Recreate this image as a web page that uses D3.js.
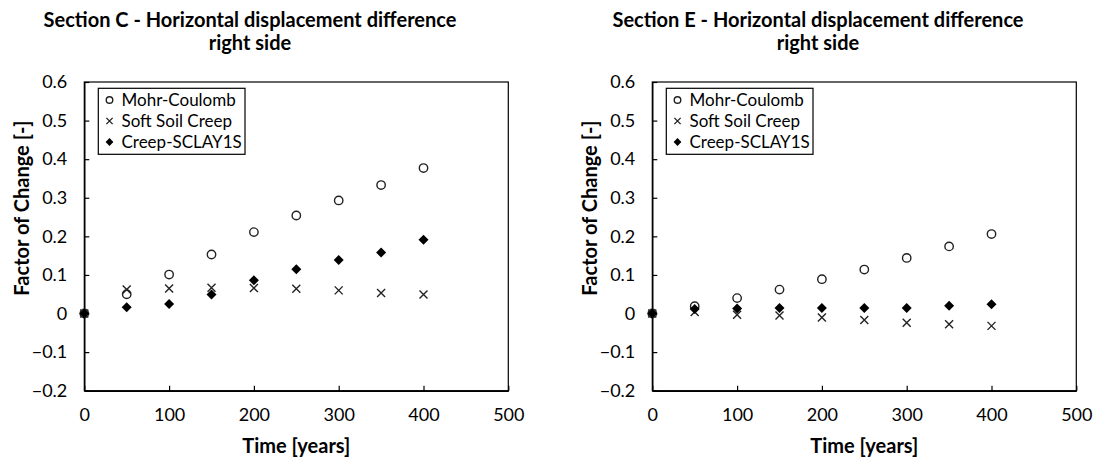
<!DOCTYPE html>
<html>
<head>
<meta charset="utf-8">
<script src="https://cdn.jsdelivr.net/npm/d3@7"></script>
<style>
  html, body { margin: 0; padding: 0; background: #fff; }
  svg text { font-family: Lato, "Open Sans", sans-serif; fill: #000; }
</style>
</head>
<body>
<svg id="chart" width="1096" height="461"></svg>
<script>
// ---- data ----
const years = [0, 50, 100, 150, 200, 250, 300, 350, 400];
const seriesNames = ["Mohr-Coulomb", "Soft Soil Creep", "Creep-SCLAY1S"];
const sectionC_MC    = [0, 0.050, 0.101, 0.153, 0.211, 0.254, 0.293, 0.333, 0.377];
const sectionC_SSC   = [0, 0.062, 0.065, 0.067, 0.066, 0.064, 0.060, 0.053, 0.049];
const sectionC_SCLAY = [0, 0.016, 0.025, 0.049, 0.086, 0.115, 0.139, 0.158, 0.191];
const sectionE_MC    = [0, 0.019, 0.040, 0.062, 0.089, 0.114, 0.144, 0.174, 0.206];
const sectionE_SSC   = [0, 0.004, -0.003, -0.005, -0.010, -0.017, -0.024, -0.028, -0.032];
const sectionE_SCLAY = [0, 0.012, 0.013, 0.014, 0.014, 0.014, 0.014, 0.020, 0.024];
const xTicks = [0, 100, 200, 300, 400, 500];
const yTicks = [-0.2, -0.1, 0, 0.1, 0.2, 0.3, 0.4, 0.5, 0.6];
const titles = [
  ["Section C - Horizontal displacement difference", "right side"],
  ["Section E - Horizontal displacement difference", "right side"]
];
const xTitle = "Time [years]";
const yTitle = "Factor of Change [-]";

const panels = [
  { title: titles[0], series: [sectionC_MC, sectionC_SSC, sectionC_SCLAY] },
  { title: titles[1], series: [sectionE_MC, sectionE_SSC, sectionE_SCLAY] }
];

// ---- layout ----
const svg = d3.select("#chart");
const plot = { left: 84.3, right: 508.3, top: 82, bottom: 390.7 };
const panelOffset = 568;

const x = d3.scaleLinear().domain([0, 500]).range([plot.left, plot.right]);
const y = d3.scaleLinear().domain([-0.2, 0.6]).range([plot.bottom, plot.top]);

function circleMark(g, cx, cy, r) {
  g.append("circle").attr("cx", cx).attr("cy", cy).attr("r", r)
    .attr("fill", "none").attr("stroke", "#222").attr("stroke-width", 1.4);
}
function timesMark(g, cx, cy, s) {
  g.append("path")
    .attr("d", `M${cx - s},${cy - s}L${cx + s},${cy + s}M${cx - s},${cy + s}L${cx + s},${cy - s}`)
    .attr("stroke", "#222").attr("stroke-width", 1.4).attr("fill", "none");
}
function diamondMark(g, cx, cy, s) {
  g.append("path")
    .attr("d", `M${cx},${cy - s}L${cx + s},${cy}L${cx},${cy + s}L${cx - s},${cy}Z`)
    .attr("fill", "#000");
}
const markers = [
  (g, cx, cy, k) => circleMark(g, cx, cy, 4.2 * k),
  (g, cx, cy, k) => timesMark(g, cx, cy, 4.0 * k),
  (g, cx, cy, k) => diamondMark(g, cx, cy, 5.0 * k)
];

panels.forEach((p, i) => {
  const g = svg.append("g").attr("transform", `translate(${i * panelOffset},0)`);

  // title
  const cx = 250;
  g.append("text").attr("x", cx).attr("y", 27).attr("text-anchor", "middle")
    .attr("font-size", 20).attr("font-weight", "bold").text(p.title[0]);
  g.append("text").attr("x", cx).attr("y", 50).attr("text-anchor", "middle")
    .attr("font-size", 20).attr("font-weight", "bold").text(p.title[1]);

  // plot border
  g.append("rect").attr("x", plot.left).attr("y", plot.top)
    .attr("width", plot.right - plot.left).attr("height", plot.bottom - plot.top)
    .attr("fill", "none").attr("stroke", "#000").attr("stroke-width", 1.2);

  // y axis (ticks inside)
  const yAxis = d3.axisLeft(y).tickValues(yTicks).tickSizeInner(-5).tickSizeOuter(0)
    .tickPadding(17).tickFormat(d => d3.format("")(+d.toFixed(1)));
  const ya = g.append("g").attr("transform", `translate(${plot.left},0)`).call(yAxis);
  ya.select(".domain").attr("stroke", "#000").attr("stroke-width", 1.4);
  ya.selectAll(".tick line").attr("stroke", "#000").attr("stroke-width", 1.2);
  ya.selectAll(".tick text").attr("font-size", 18).attr("font-family", "Lato, sans-serif").attr("fill", "#000");

  // x axis (ticks inside)
  const xAxis = d3.axisBottom(x).tickValues(xTicks).tickSizeInner(-5).tickSizeOuter(0)
    .tickPadding(18);
  const xa = g.append("g").attr("transform", `translate(0,${plot.bottom})`).call(xAxis);
  xa.select(".domain").attr("stroke", "#000").attr("stroke-width", 1.4);
  xa.selectAll(".tick line").attr("stroke", "#000").attr("stroke-width", 1.2);
  xa.selectAll(".tick text").attr("font-size", 18).attr("font-family", "Lato, sans-serif").attr("fill", "#000");

  // axis titles
  g.append("text").attr("x", (plot.left + plot.right) / 2).attr("y", 453)
    .attr("text-anchor", "middle").attr("font-size", 20).attr("font-weight", "bold").text(xTitle);
  g.append("text").attr("transform", `translate(29,208) rotate(-90)`)
    .attr("text-anchor", "middle").attr("font-size", 20).attr("font-weight", "bold").text(yTitle);

  // points
  const pts = g.append("g");
  p.series.forEach((vals, si) => {
    vals.forEach((v, j) => markers[si](pts, x(years[j]), y(v), 1));
  });

  // legend
  const lg = g.append("g");
  lg.append("rect").attr("x", 98.3).attr("y", 88.3).attr("width", 146.7).attr("height", 66)
    .attr("fill", "#fff").attr("stroke", "#000").attr("stroke-width", 1.2);
  const rowY = [100, 121, 142];
  seriesNames.forEach((name, si) => {
    markers[si](lg, 109.5, rowY[si], 0.78);
    lg.append("text").attr("x", 121.5).attr("y", rowY[si] + 6)
      .attr("font-size", 17).text(name);
  });
});
</script>
</body>
</html>
